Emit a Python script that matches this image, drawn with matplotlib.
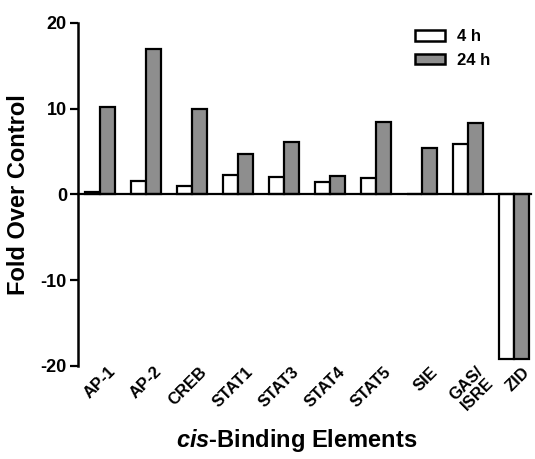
import matplotlib
matplotlib.use("Agg")
import matplotlib.pyplot as plt
import numpy as np

plt.rcParams['font.family'] = ['Liberation Sans', 'DejaVu Sans']
plt.rcParams['mathtext.fontset'] = 'custom'
plt.rcParams['mathtext.bfit'] = 'Liberation Sans:italic:bold'
plt.rcParams['mathtext.it'] = 'Liberation Sans:italic:bold'
plt.rcParams['mathtext.rm'] = 'Liberation Sans:bold'

categories = ["AP-1", "AP-2", "CREB", "STAT1", "STAT3", "STAT4", "STAT5", "SIE", "GAS/\nISRE", "ZID"]
h4 = [0.3, 1.6, 1.0, 2.3, 2.0, 1.5, 1.9, 0.0, 5.9, -19.2]
h24 = [10.2, 17.0, 10.0, 4.7, 6.1, 2.2, 8.4, 5.4, 8.3, -19.2]
series_names = ["4 h", "24 h"]
yticks = [-20, -10, 0, 10, 20]

fig = plt.figure(figsize=(5.35, 4.59), dpi=100)
ax = fig.add_axes([0.146, 0.203, 0.847, 0.747])

x = np.arange(len(categories))
w = 0.33
ax.bar(x - w/2, h4, w, color='white', edgecolor='black', linewidth=1.6, label=series_names[0], zorder=3)
ax.bar(x + w/2, h24, w, color='#8e8e8e', edgecolor='black', linewidth=1.6, label=series_names[1], zorder=3)

ax.set_xlim(-0.48, 9.37)
ax.set_ylim(-20, 20)
ax.set_yticks(yticks)
ax.set_yticklabels([str(t) for t in yticks], fontsize=13, fontweight='bold')
ax.tick_params(axis='y', direction='out', length=6, width=1.6, pad=2)
ax.set_xticks([])
for s in ['top', 'right']:
    ax.spines[s].set_visible(False)
ax.spines['left'].set_linewidth(1.8)
ax.spines['bottom'].set_position(('data', 0))
ax.spines['bottom'].set_linewidth(1.6)
ax.spines['bottom'].set_zorder(4)

trans = matplotlib.transforms.blended_transform_factory(ax.transData, ax.transAxes)
for xi, c in zip(x, categories):
    ax.text(xi + 0.16, 0.005, c, transform=trans, rotation=45, ha='right', va='top',
            rotation_mode='anchor', fontsize=12, fontweight='bold', linespacing=1.0)

ax.set_ylabel("Fold Over Control", fontsize=17, fontweight='bold', labelpad=8)
fig.text(0.555, 0.026, r"$\mathit{cis}$" + "-Binding Elements", ha='center', va='baseline',
         fontsize=17, fontweight='bold')

leg = ax.legend(loc='upper left', bbox_to_anchor=(0.71, 1.025), frameon=False,
                prop={'weight': 'bold', 'size': 12},
                handlelength=1.8, handleheight=0.6, handletextpad=0.7, labelspacing=0.5)
for p in leg.get_patches():
    p.set_linewidth(1.8)

fig.savefig("out.png", dpi=100)
